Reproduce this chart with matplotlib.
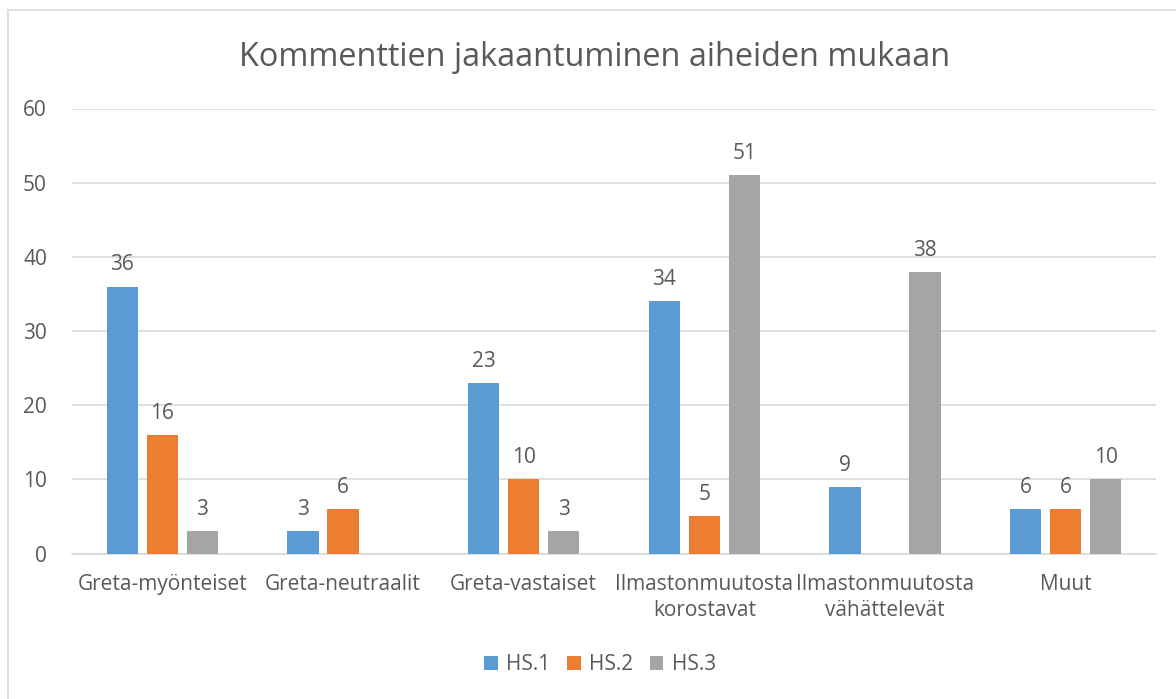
import matplotlib
matplotlib.use("Agg")
import matplotlib.pyplot as plt
from matplotlib.patches import Rectangle
import numpy as np

categories = ["Greta-myönteiset", "Greta-neutraalit", "Greta-vastaiset",
              "Ilmastonmuutosta\nkorostavat", "Ilmastonmuutosta\nvähättelevät", "Muut"]
series_names = ["HS.1", "HS.2", "HS.3"]
hs1 = [36, 3, 23, 34, 9, 6]
hs2 = [16, 6, 10, 5, 0, 6]
hs3 = [3, 0, 3, 51, 38, 10]
colors = ["#5B9BD5", "#ED7D31", "#A5A5A5"]
title = "Kommenttien jakaantuminen aiheiden mukaan"

plt.rcParams['font.family'] = ['Open Sans', 'DejaVu Sans']
txt = "#595959"
fs = 15

W, H = 1176, 699
fig = plt.figure(figsize=(W / 100, H / 100), dpi=100)
fig.patch.set_facecolor("white")
# outer frame
fig.patches.append(Rectangle((8 / W, -0.05), 1.2, 1 - 10 / H + 0.05, transform=fig.transFigure,
                             fill=False, edgecolor="#D9D9D9", linewidth=1.2))

left, right = 72 / W, 1156 / W
bottom, top = 1 - 553.5 / H, 1 - 108.5 / H
ax = fig.add_axes([left, bottom, right - left, top - bottom])

x = np.arange(len(categories))
bw = 0.174
off = 0.221
for i, (vals, c, name) in enumerate(zip([hs1, hs2, hs3], colors, series_names)):
    pos = x + (i - 1) * off
    ax.bar(pos, vals, width=bw, color=c, label=name, zorder=3)
    for p, v in zip(pos, vals):
        if v > 0:
            ax.text(p, v + 1.5, str(v), ha="center", va="bottom", fontsize=fs, color=txt)

ax.set_xlim(-0.5, len(categories) - 0.5)
ax.set_ylim(0, 60)
ax.set_yticks(range(0, 61, 10))
ax.yaxis.grid(True, color="#D9D9D9", linewidth=1.2, zorder=0)
ax.set_axisbelow(True)
for s in ["top", "right", "left"]:
    ax.spines[s].set_visible(False)
ax.spines["bottom"].set_color("#D9D9D9")
ax.spines["bottom"].set_linewidth(1.2)
ax.tick_params(axis="both", length=0, labelsize=fs, colors=txt)
ax.tick_params(axis="y", pad=18)
ax.tick_params(axis="x", pad=15)
ax.set_xticks(x)
ax.set_xticklabels(categories, linespacing=1.3)

fig.text(595 / W, 1 - 57 / H, title, ha="center", va="center", fontsize=23.4, color=txt)

fig.legend(loc="center", bbox_to_anchor=(600 / W, 1 - 665 / H), ncol=3, frameon=False,
           fontsize=fs, handlelength=0.65, handleheight=0.65, handletextpad=0.4,
           columnspacing=0.8, labelcolor=txt)

fig.savefig("out.png", dpi=100)
